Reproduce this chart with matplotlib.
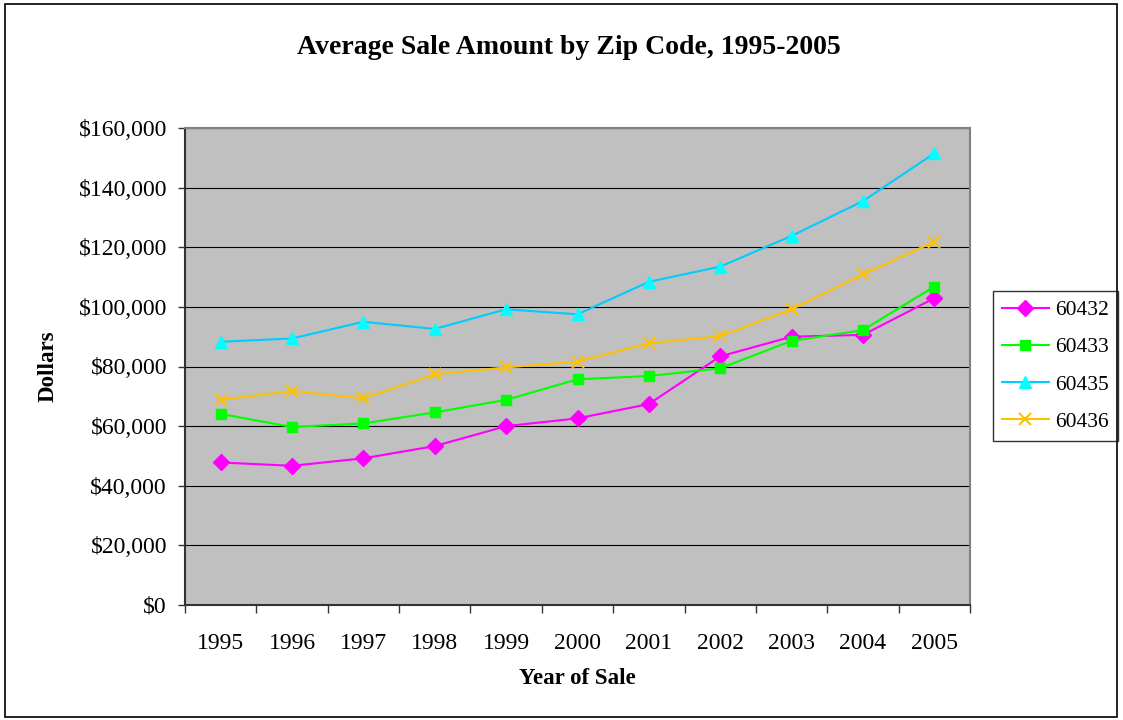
import numpy as np
import matplotlib
matplotlib.use("Agg")
import matplotlib.pyplot as plt
from matplotlib.patches import Rectangle
from matplotlib.ticker import FuncFormatter, FixedLocator

plt.rcParams['font.family'] = ['Liberation Serif', 'DejaVu Serif']

years = [1995, 1996, 1997, 1998, 1999, 2000, 2001, 2002, 2003, 2004, 2005]
zip_60432 = [47800, 46700, 49200, 53300, 60000, 62600, 67400, 83400, 90000, 90600, 102900]
zip_60433 = [64100, 59700, 60900, 64600, 68800, 75700, 76800, 79400, 88600, 92200, 106800]
zip_60435 = [88300, 89400, 95000, 92600, 99200, 97500, 108400, 113500, 123800, 135500, 151500]
zip_60436 = [68800, 71800, 69300, 77400, 79700, 81600, 87800, 90200, 99200, 110900, 121900]

series = [
    ("60432", zip_60432, "#FF00FF", "#FF00FF", "D", 8),
    ("60433", zip_60433, "#00FF00", "#00FF00", "s", 7.5),
    ("60435", zip_60435, "#00CCFF", "#00FFFF", "^", 9),
    ("60436", zip_60436, "#FFC000", "#FFC000", "x", 9),
]

fig = plt.figure(figsize=(11.23, 7.2), dpi=100)
ax = fig.add_axes([185 / 1123, 1 - 605 / 720, 785 / 1123, 477 / 720])
ax.set_facecolor("#C0C0C0")

x = np.arange(len(years))
for name, vals, lc, mc, mk, ms in series:
    ax.plot(x, vals, color=lc, lw=1.5, marker=mk, ms=ms,
            markerfacecolor=mc, markeredgecolor=mc, mew=1.5 if mk == "x" else 1,
            label=name, zorder=3)

ax.set_xlim(-0.5, len(years) - 0.5)
ax.set_ylim(0, 160000)
ax.yaxis.set_major_locator(FixedLocator(np.arange(0, 160001, 20000)))
ax.yaxis.set_major_formatter(FuncFormatter(lambda v, p: "${:,.0f}".format(v)))
ax.grid(axis="y", color="black", lw=0.8, zorder=1)
ax.set_axisbelow(True)

ax.set_xticks(np.arange(-0.5, len(years)), minor=False)
ax.set_xticklabels([])
ax.set_xticks(x, minor=True)
ax.set_xticklabels([str(y) for y in years], minor=True)
ax.tick_params(axis="x", which="major", direction="out", length=6, width=1, color="#333333")
ax.tick_params(axis="x", which="minor", length=0, pad=20, labelsize=17)
ax.tick_params(axis="y", direction="out", length=5, width=1, color="#333333", labelsize=17, pad=8)

for side in ("left", "bottom"):
    ax.spines[side].set_color("#333333")
    ax.spines[side].set_linewidth(1.5)
for side in ("top", "right"):
    ax.spines[side].set_color("#808080")
    ax.spines[side].set_linewidth(1.5)

ax.set_xlabel("Year of Sale", fontsize=16.5, fontweight="bold", labelpad=10)
ax.set_ylabel("Dollars", fontsize=16.5, fontweight="bold", labelpad=14)
fig.text(569 / 1123, 1 - 47 / 720, "Average Sale Amount by Zip Code, 1995-2005",
         ha="center", va="center", fontsize=20, fontweight="bold")

leg = ax.legend(loc="center left", bbox_to_anchor=(993 / 1123, 1 - 366 / 720),
                bbox_transform=fig.transFigure, frameon=True, fancybox=False,
                fontsize=15.5, handlelength=2.2, borderpad=0.4, labelspacing=0.8,
                handletextpad=0.3, borderaxespad=0)
leg.get_frame().set_edgecolor("black")
leg.get_frame().set_linewidth(1)

fig.patches.append(Rectangle((5 / 1123, 3 / 720), 1112 / 1123, 713 / 720,
                             transform=fig.transFigure, fill=False,
                             edgecolor="black", lw=1.2))

fig.savefig("out.png", dpi=100)
